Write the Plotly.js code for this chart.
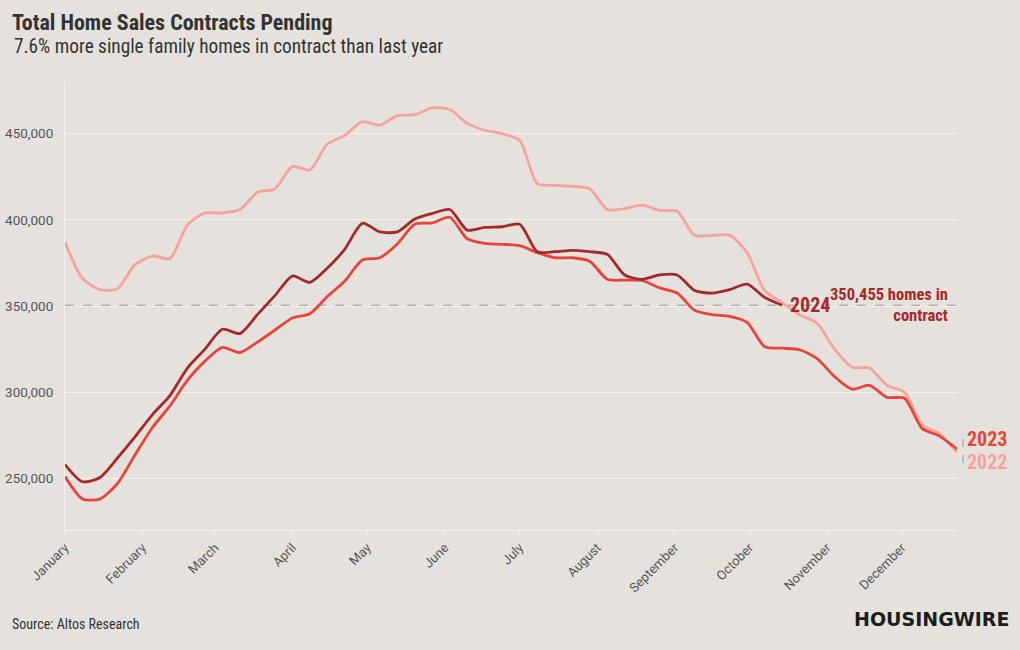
<!DOCTYPE html>
<html>
<head>
<meta charset="utf-8">
<script src="https://cdn.plot.ly/plotly-3.0.1.min.js"></script>
<style>
  html, body { margin: 0; padding: 0; background: #e5e2dd; }
  #chart { width: 1020px; height: 650px; }
</style>
</head>
<body>
<div id="chart"></div>
<script>
// Weekly observations (week starting dates)
const weekCount = 52;
const weeks = Array.from({length: weekCount}, (_, i) => {
  const d = new Date(Date.UTC(2024, 0, 1 + 7 * i));
  return d.toISOString().slice(0, 10);
});

const sales2022 = [387000,366000,359500,360000,374000,379000,377500,397000,404000,404000,406000,416000,418000,431000,429000,444000,449000,457000,455000,460500,461000,465000,464000,456000,452000,450000,446000,421000,420000,419500,418000,406000,406500,408500,405500,405000,391000,391000,391000,381000,359000,352000,345000,340000,325000,314500,314000,304000,300000,281000,276000,265000];
const sales2023 = [251000,238000,238000,247000,263500,279500,292000,307000,318000,326000,323000,329000,336000,343000,345500,355500,364500,376700,378000,386000,397500,398200,401500,389000,386300,385800,385000,381000,378000,378000,376000,365500,365000,364800,360500,357500,347500,345000,344000,340500,326400,325500,324600,319500,309000,301700,304000,297000,296500,279000,274500,267000];
const sales2024 = [258000,248000,250500,261800,274000,287000,298000,314000,325000,336500,334000,345000,356000,367400,363700,372000,383000,398000,393000,393000,400500,403700,406000,394000,395600,396000,397500,381500,381500,382300,381500,380000,368000,365500,368000,368000,359000,357500,359500,362700,355000,350455];

const seriesNames = ['2022', '2023', '2024'];
const currentValue = 350455;
const titleText = 'Total Home Sales Contracts Pending';
const subtitleText = '7.6% more single family homes in contract than last year';
const calloutText = '350,455 homes in<br>contract';
const sourceText = 'Source: Altos Research';
const brandText = 'HOUSINGWIRE';

const C22 = '#f5a39c', C23 = '#e8443a', C24 = '#a3292b';
const FONT = 'Roboto Condensed, Liberation Sans Narrow, Roboto, sans-serif';
const TICKFONT = 'Roboto, sans-serif';
const GRID = '#f4f2ef';

function lineTrace(y, name, color) {
  return {
    x: weeks.slice(0, y.length), y: y, name: name, type: 'scatter', mode: 'lines',
    line: {color: color, width: 2.8, shape: 'spline', smoothing: 0.7},
    hoverinfo: 'skip'
  };
}

const data = [
  lineTrace(sales2022, seriesNames[0], C22),
  lineTrace(sales2023, seriesNames[1], C23),
  lineTrace(sales2024, seriesNames[2], C24)
];

const last24 = weeks[sales2024.length - 1];

const layout = {
  width: 1020, height: 650,
  paper_bgcolor: '#e5e2dd', plot_bgcolor: '#e5e2dd',
  margin: {l: 65, r: 63, t: 82, b: 120},
  showlegend: false,
  font: {family: FONT, color: '#444'},
  title: {
    text: titleText,
    xref: 'container', x: 12 / 1020, xanchor: 'left',
    yref: 'container', y: 1 - 22 / 650, yanchor: 'middle',
    font: {family: FONT, size: 22, weight: 700, color: '#333'}
  },
  xaxis: {
    type: 'date',
    range: [weeks[0], weeks[weekCount - 1]],
    tick0: weeks[0], dtick: 'M1', tickformat: '%B', tickangle: -45,
    ticks: 'outside', ticklen: 4, tickcolor: GRID,
    showgrid: false, showline: true, linecolor: GRID, linewidth: 1,
    zeroline: false,
    tickfont: {family: TICKFONT, size: 13, color: '#555'}
  },
  yaxis: {
    range: [220000, 480000], tick0: 0, dtick: 50000, tickformat: ',d',
    showgrid: true, gridcolor: GRID, gridwidth: 1,
    showline: true, linecolor: GRID, linewidth: 1, zeroline: false,
    ticks: '', ticklabelstandoff: 8,
    tickfont: {family: TICKFONT, size: 13.5, color: '#555'}
  },
  shapes: [
    {type: 'line', xref: 'paper', x0: 0, x1: 1, yref: 'y', y0: currentValue, y1: currentValue,
     line: {color: '#9a9794', width: 1, dash: 'dash'}, layer: 'below'},
    {type: 'line', xref: 'paper', xsizemode: 'pixel', xanchor: 1, x0: 6, x1: 6,
     yref: 'y', y0: 272800, y1: 268300, line: {color: '#9a9794', width: 1}},
    {type: 'line', xref: 'paper', xsizemode: 'pixel', xanchor: 1, x0: 6, x1: 6,
     yref: 'y', y0: 263600, y1: 259000, line: {color: '#9a9794', width: 1}}
  ],
  annotations: [
    {text: subtitleText, xref: 'paper', x: (12 - 65) / 892, xanchor: 'left',
     yref: 'paper', y: (530 - 46) / 448, yanchor: 'middle', showarrow: false,
     font: {family: FONT, size: 19.3, color: '#333'}},
    {text: seriesNames[2], x: last24, y: currentValue, xref: 'x', yref: 'y',
     xanchor: 'left', yanchor: 'middle', xshift: 6, showarrow: false,
     font: {family: FONT, size: 20, weight: 700, color: C24}},
    {text: calloutText, xref: 'paper', x: (950 - 65) / 892, xanchor: 'right', align: 'right',
     yref: 'y', y: currentValue, yanchor: 'middle', showarrow: false,
     font: {family: FONT, size: 16.5, weight: 700, color: C24}},
    {text: seriesNames[1], xref: 'paper', x: 1, xshift: 8, xanchor: 'left',
     yref: 'y', y: 273000, yanchor: 'middle', showarrow: false,
     font: {family: FONT, size: 20, weight: 700, color: C23}},
    {text: seriesNames[0], xref: 'paper', x: 1, xshift: 8, xanchor: 'left',
     yref: 'y', y: 259500, yanchor: 'middle', showarrow: false,
     font: {family: FONT, size: 20, weight: 700, color: C22}},
    {text: sourceText, xref: 'paper', x: (10 - 65) / 892, xanchor: 'left',
     yref: 'paper', y: (530 - 624) / 448, yanchor: 'middle', showarrow: false,
     font: {family: FONT, size: 14, color: '#333'}},
    {text: brandText, xref: 'paper', x: (1011 - 65) / 892, xanchor: 'right',
     yref: 'paper', y: (530 - 619) / 448, yanchor: 'middle', showarrow: false,
     font: {family: 'DejaVu Sans, sans-serif', size: 19, weight: 700, color: '#1c1c1c'}}
  ]
};

Plotly.newPlot('chart', data, layout, {displayModeBar: false, staticPlot: true});
</script>
</body>
</html>
